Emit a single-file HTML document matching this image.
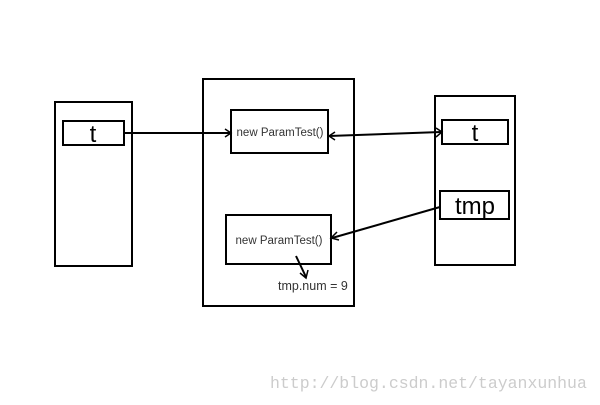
<!DOCTYPE html>
<html><head><style>body{margin:0;background:#fff}</style></head><body>
<svg width="600" height="400" xmlns="http://www.w3.org/2000/svg" font-family="Liberation Sans, DejaVu Sans, sans-serif">
<g fill="none" stroke="#000" stroke-width="2">
<rect x="55" y="102" width="77" height="164"/>
<rect x="63" y="121" width="61" height="24"/>
<rect x="203" y="79" width="151" height="227"/>
<rect x="231" y="110" width="97" height="43"/>
<rect x="226" y="215" width="105" height="49"/>
<rect x="435" y="96" width="80" height="169"/>
<rect x="442" y="120" width="66" height="24"/>
<rect x="440" y="191" width="69" height="28"/>
<line x1="124" y1="133" x2="230" y2="133"/>
<polyline points="225,129 231,133 225,137" stroke-width="1.5"/>
<line x1="329" y1="136" x2="441" y2="132"/>
<polyline points="335,132 329,136 335,140" stroke-width="1.5"/>
<polyline points="436,128 442,132 436,137" stroke-width="1.5"/>
<line x1="440" y1="207" x2="332" y2="238"/>
<polyline points="337,232 331,238 339,240" stroke-width="1.5"/>
<line x1="296" y1="256" x2="306" y2="277"/>
<polyline points="300,273 306,278 308,270" stroke-width="1.5"/>
</g>
<g fill="#000">
<text x="93" y="142" font-size="24" text-anchor="middle">t</text>
<text x="475" y="141" font-size="24" text-anchor="middle">t</text>
<text x="475" y="214" font-size="24" text-anchor="middle">tmp</text>
<text x="280" y="136" font-size="11.5" text-anchor="middle" fill="#333">new ParamTest()</text>
<text x="279" y="244" font-size="11.5" text-anchor="middle" fill="#333">new ParamTest()</text>
<text x="278" y="290" font-size="12.5" fill="#333">tmp.num = 9</text>
</g>
<text x="270" y="388" font-size="16.5" font-family="Liberation Mono, monospace" fill="#ccc">http://blog.csdn.net/tayanxunhua</text>
</svg>
</body></html>
